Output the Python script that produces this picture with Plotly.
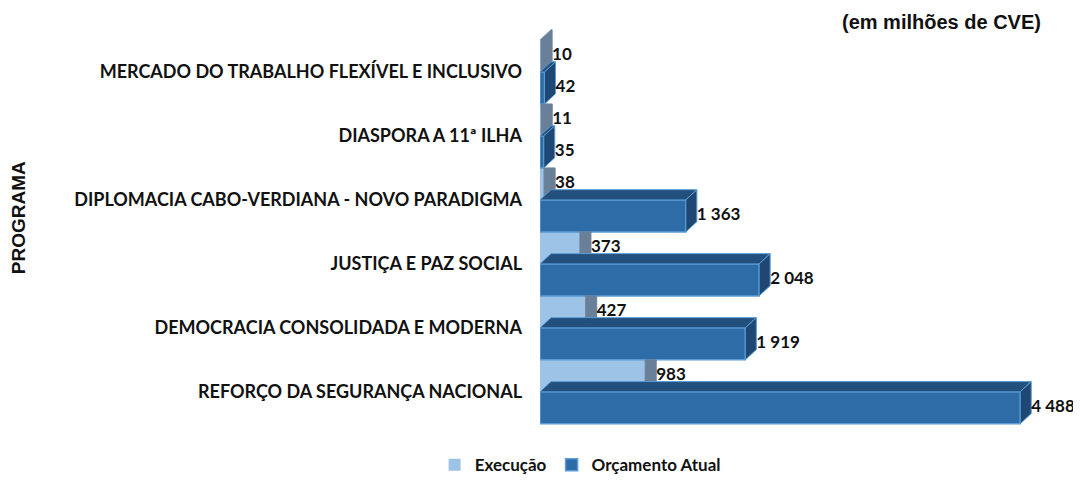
import plotly.graph_objects as go

# dados (em milhões de CVE), de baixo para cima
programas = [
    "REFORÇO DA SEGURANÇA NACIONAL",
    "DEMOCRACIA CONSOLIDADA E MODERNA",
    "JUSTIÇA E PAZ SOCIAL",
    "DIPLOMACIA CABO-VERDIANA - NOVO PARADIGMA",
    "DIASPORA A 11ª ILHA",
    "MERCADO DO TRABALHO FLEXÍVEL E INCLUSIVO",
]
execucao = [983, 427, 373, 38, 11, 10]
orcamento = [4488, 1919, 2048, 1363, 35, 42]

# efeito 3D (profundidade em unidades dos eixos)
DX = 103
DY = 0.16
H = 0.5

pos = list(range(len(programas)))


def fmt(v):
    return f"{v:,}".replace(",", " ")


def poly(pts):
    xs = [p[0] for p in pts] + [pts[0][0]]
    ys = [p[1] for p in pts] + [pts[0][1]]
    return xs, ys


def join(polys):
    X, Y = [], []
    for xs, ys in polys:
        X += xs + [None]
        Y += ys + [None]
    return X, Y


top_i = len(pos) - 1
ex_side, ex_top, or_top, or_side = [], [], [], []
for i in reversed(pos):
    e, o, c = execucao[i], orcamento[i], pos[i]
    if i == top_i:
        ex_side.append(poly([(e, c), (e, c + H), (e + DX, c + H + DY), (e + DX, c + DY)]))
        ex_top.append(poly([(0, c + H), (e, c + H), (e + DX, c + H + DY), (DX, c + H + DY)]))
    else:
        # a parte de cima fica escondida pela barra do programa seguinte
        ex_side.append(poly([(e, c), (e, c + H), (e + DX, c + H), (e + DX, c + DY)]))
    or_top.append(poly([(0, c), (o, c), (o + DX, c + DY), (DX, c + DY)]))
    or_side.append(poly([(o, c - H), (o, c), (o + DX, c + DY), (o + DX, c - H + DY)]))

fig = go.Figure()

# faces frontais
fig.add_trace(go.Bar(
    y=[p + H / 2 for p in pos], x=execucao, orientation="h", width=H,
    name="Execução", marker=dict(color="#9DC3E6", line=dict(width=0)),
))
fig.add_trace(go.Bar(
    y=[p - H / 2 for p in pos], x=orcamento, orientation="h", width=H,
    name="Orçamento Atual", marker=dict(color="#2E6CA7", line=dict(color="#5B9BD5", width=1.5)),
))

# faces laterais e superiores
for polys, fill, line in [
    (ex_top, "#8497B0", "#8497B0"),
    (ex_side, "#6A7F98", "#6A7F98"),
    (or_top, "#224F7C", "#5B9BD5"),
    (or_side, "#1E4873", "#5B9BD5"),
]:
    X, Y = join(polys)
    fig.add_trace(go.Scatter(
        x=X, y=Y, mode="lines", fill="toself", fillcolor=fill,
        line=dict(color=line, width=1), showlegend=False, hoverinfo="skip",
    ))

# rótulos de dados
lab_font = dict(family="Lato", size=17, color="#111111", weight="bold")
fig.add_trace(go.Scatter(
    x=[v + DX for v in execucao], y=[p + H / 2 for p in pos], mode="text",
    text=[fmt(v) for v in execucao], textposition="middle right",
    textfont=lab_font, showlegend=False, hoverinfo="skip",
))
fig.add_trace(go.Scatter(
    x=[v + DX for v in orcamento], y=[p - H / 2 for p in pos], mode="text",
    text=[fmt(v) for v in orcamento], textposition="middle right",
    textfont=lab_font, showlegend=False, hoverinfo="skip",
))

fig.add_annotation(
    xref="paper", yref="paper", x=-0.9757, y=0.55, text="<b>PROGRAMA</b>",
    textangle=-90, showarrow=False, xanchor="center", yanchor="middle",
    font=dict(family="Liberation Sans", size=19, color="#111111"),
)
fig.add_annotation(
    xref="paper", yref="paper", x=0.751, y=0.97, text="<b>(em milhões de CVE)</b>",
    showarrow=False, xanchor="center", yanchor="middle",
    font=dict(family="Liberation Sans", size=20, color="#111111"),
)

fig.update_layout(
    width=1073, height=481,
    margin=dict(l=532, r=6, t=0, b=14),
    plot_bgcolor="white", paper_bgcolor="white",
    barmode="overlay",
    showlegend=True,
    legend=dict(
        orientation="h", x=0.075, xanchor="center", y=0.021, yanchor="middle",
        font=dict(family="Lato", size=17, color="#111111", weight="bold"),
        traceorder="normal", itemwidth=30, entrywidth=0,
    ),
    xaxis=dict(range=[0, 5000], visible=False),
    yaxis=dict(
        range=[-1.3, 6], tickvals=pos, ticktext=programas,
        tickfont=dict(family="Lato", size=18, color="#111111", weight="bold"),
        showgrid=False, zeroline=False, showline=False, ticks="",
        ticklabelstandoff=17,
    ),
)

fig.write_html("out.html")
